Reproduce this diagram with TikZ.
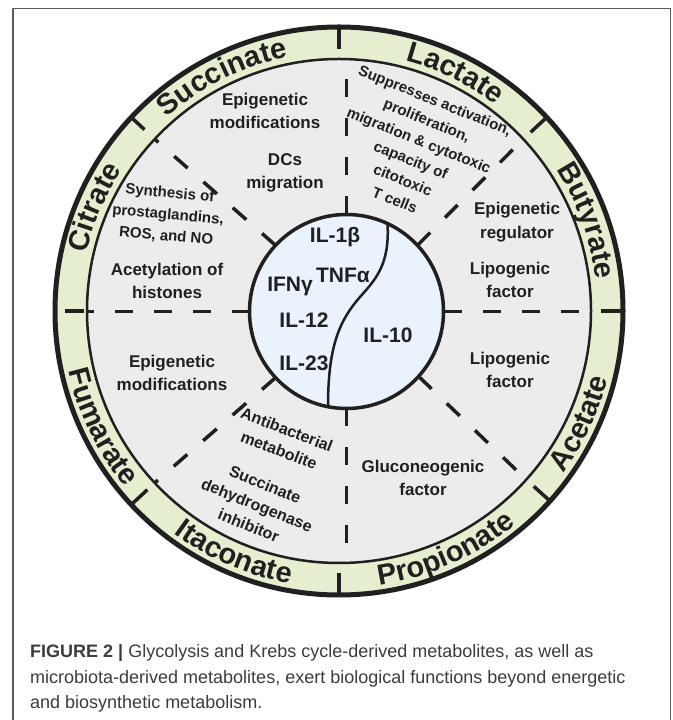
\documentclass[tikz,border=0pt]{standalone}
\usepackage{fontspec}
\setmainfont{Liberation Sans}
\usepackage{tikz}
\usetikzlibrary{calc,decorations.text}

\definecolor{ringgreen}{RGB}{229,238,207}
\definecolor{sectorgray}{RGB}{237,235,236}
\definecolor{coreblue}{RGB}{234,242,252}
\definecolor{inkdark}{RGB}{32,32,32}
\definecolor{framegray}{RGB}{90,90,90}
\definecolor{captext}{RGB}{60,60,60}

\newcommand{\funcfont}{\fontsize{17}{23.5}\selectfont\bfseries}
\newcommand{\tiltfont}{\fontsize{15}{21.5}\selectfont\bfseries}
\newcommand{\ringfont}{\fontsize{29}{29}\selectfont\bfseries}
\newcommand{\cytofont}{\fontsize{21}{21}\selectfont\bfseries}
\newcommand{\capfont}{\fontsize{18}{25}\selectfont}
\newcommand{\ringlabel}[4]{\path[decorate,decoration={text along path,text align=center,
  text color=inkdark,text={|\ringfont|#4}}] ($(C)+(#1:#3)$) arc[start angle=#1,end angle=#2,radius=#3];}

\begin{document}
\begin{tikzpicture}[x=1pt,y=1pt,line join=round,
                    func/.style={align=center,text=inkdark,font=\funcfont,inner sep=0pt},
                    tiltfunc/.style={align=center,text=inkdark,font=\tiltfont,inner sep=0pt},
                    cyto/.style={text=inkdark,font=\cytofont,inner sep=0pt},
                    divider/.style={draw=inkdark,line width=3.5,dash pattern=on 18 off 21},
                    ringtick/.style={draw=inkdark,line width=3.5}]
  \tikzstyle{disc}=[circle,inner sep=0pt,outer sep=0pt,draw=inkdark]

  \useasboundingbox[fill=white] (0,0) rectangle (672,720);
  \draw[framegray,line width=1.3] (13,0) |- (670.5,711.3) -- (670.5,0);

  \coordinate (C) at (339,409);
  \node[disc,fill=ringgreen,line width=5,minimum size=568] (outer) at (C) {};
  \node[disc,fill=sectorgray,line width=2.5,minimum size=504] (ring) at (C) {};
  \node[disc,minimum size=194] (core) at (346.5,408.5) {};

  \draw[divider] (core.north) -- (core.north |- ring.north);
  \draw[divider] (core.south) -- (core.south |- ring.south);
  \draw[divider] (core.west) -- (core.west -| ring.west);
  \draw[divider] (core.east) -- (core.east -| ring.east);
  \draw[divider] (core.43) -- (ring.43);
  \draw[divider] (core.137) -- (ring.137);
  \draw[divider] (core.223) -- (ring.223);
  \draw[divider] (core.318) -- (ring.318);

  \draw[ringtick] ($(C)+(90:262)$) -- ($(C)+(90:282)$);
  \draw[ringtick] ($(C)+(270:262)$) -- ($(C)+(270:282)$);
  \draw[ringtick] ($(C)+(0:262)$) -- ($(C)+(0:282)$);
  \draw[ringtick] ($(C)+(180:255)$) -- ($(C)+(180:274)$);
  \draw[ringtick] ($(C)+(43:262)$) -- ($(C)+(43:282)$);
  \draw[ringtick] ($(C)+(137:266)$) -- ($(C)+(137:284)$);
  \draw[ringtick] ($(C)+(223:262)$) -- ($(C)+(223:282)$);
  \draw[ringtick] ($(C)+(318:262)$) -- ($(C)+(318:282)$);

  \node[disc,fill=coreblue,line width=3.5,minimum size=194] at (core) {};
  \draw[inkdark,line width=2.5] (core.65) .. controls (390,455) and (375,440) .. (360,423)
        .. controls (340,400) and (328,375) .. (core.259);

  \ringlabel{138.5}{94.5}{259}{Succinate}
  \ringlabel{86}{42}{259}{Lactate}
  \ringlabel{42}{-2}{259}{Butyrate}
  \ringlabel{179}{135}{259}{Citrate}
  \ringlabel{184}{228}{277}{Fumarate}
  \ringlabel{224.6}{268.6}{277}{Itaconate}
  \ringlabel{272}{316}{277}{Propionate}
  \ringlabel{313}{357}{277}{Acetate}

  \node[cyto] (il1b) at (335,483) {IL-1β};
  \node[cyto] (tnfa) at (343,445) {TNFα};
  \node[cyto] (ifng) at (290,434) {IFNγ};
  \node[cyto] (il12) at (304,400) {IL-12};
  \node[cyto] (il23) at (304,357) {IL-23};
  \node[cyto] (il10) at (388,385) {IL-10};

  \node[func] (succepi) at (265,609) {Epigenetic\\modifications};
  \node[func] (succdc) at (285,547) {DCs\\migration};
  \node[tiltfunc,rotate=-5] (citsyn) at (168,505) {Synthesis of\\prostaglandins,\\ROS, and NO};
  \node[func] (citacet) at (167,439) {Acetylation of\\histones};
  \node[tiltfunc,rotate=-22] (lactsup) at (415,570)
        {Suppresses activation,\\proliferation,\\migration \& cytotoxic\\capacity of\\citotoxic\\T cells};
  \node[func] (butepi) at (517,498) {Epigenetic\\regulator};
  \node[func] (butlipo) at (510,440) {Lipogenic\\factor};
  \node[func] (acelipo) at (510,350) {Lipogenic\\factor};
  \node[func] (propglu) at (423,242) {Gluconeogenic\\factor};
  \node[tiltfunc,font=\fontsize{16}{22}\selectfont\bfseries,rotate=-21] (itaanti) at (283,280) {Antibacterial\\metabolite};
  \node[tiltfunc,font=\fontsize{16}{22}\selectfont\bfseries,rotate=-22] (itasdh) at (257,215) {Succinate\\dehydrogenase\\inhibitor};
  \node[func] (fumepi) at (172,347) {Epigenetic\\modifications};

  \node[anchor=base west,inner sep=0pt,text=captext,font=\capfont] (cap1) at (30,62)
        {\textbf{FIGURE 2 |} Glycolysis and Krebs cycle-derived metabolites, as well as};
  \node[anchor=base west,inner sep=0pt,text=captext,font=\capfont] (cap2) at (30,36.5)
        {microbiota-derived metabolites, exert biological functions beyond energetic};
  \node[anchor=base west,inner sep=0pt,text=captext,font=\capfont] (cap3) at (30,11)
        {and biosynthetic metabolism.};
\end{tikzpicture}
\end{document}
